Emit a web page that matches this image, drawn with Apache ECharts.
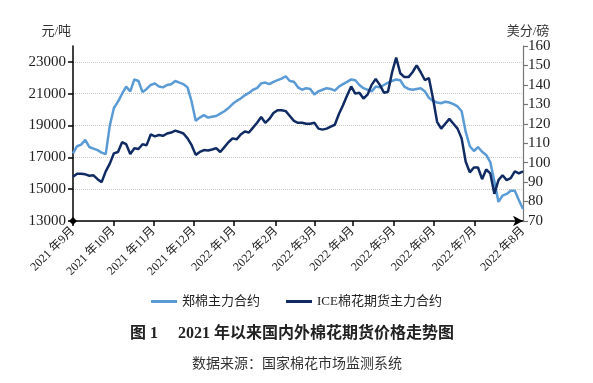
<!DOCTYPE html>
<html>
<head>
<meta charset="utf-8">
<script src="https://cdn.jsdelivr.net/npm/echarts@6/dist/echarts.min.js"></script>
<style>
html,body{margin:0;padding:0;background:#fff;}
#chart{width:593px;height:383px;}
</style>
</head>
<body>
<div id="chart"></div>
<script>
// Month labels and their positions on the sampling index axis
var monthLabels = ['2021 年9月','2021 年10月','2021 年11月','2021 年12月','2022 年1月','2022 年2月','2022 年3月','2022 年4月','2022 年5月','2022 年6月','2022 年7月','2022 年8月'];
var monthPos = [0, 9.84, 19.7, 29.6, 39.4, 49.6, 59.1, 68.3, 78.4, 88.2, 98.2, 110];
var leftTicks = [13000, 15000, 17000, 19000, 21000, 23000];
var seriesNames = ['郑棉主力合约', 'ICE棉花期货主力合约'];

// 郑棉主力合约 (元/吨), sampled along the time axis
var zcValues = [17250,17700,17800,18100,17650,17550,17450,17300,17200,19000,
 20100,20500,21000,21450,21150,21900,21800,21100,21300,21550,
 21650,21450,21400,21550,21600,21800,21700,21600,21400,20500,
 19300,19500,19650,19500,19550,19600,19750,19900,20100,20350,
 20550,20700,20900,21050,21250,21350,21650,21700,21600,21750,
 21850,21950,22100,21800,21750,21400,21250,21350,21300,20950,
 21150,21250,21350,21300,21200,21450,21600,21750,21900,21850,
 21550,21350,21250,21150,21450,21400,21550,21700,21800,21900,
 21850,21450,21300,21250,21300,21350,21150,20750,20550,20450,
 20400,20500,20450,20350,20200,19900,18600,17700,17400,17650,
 17350,17150,16700,15500,14200,14600,14700,14900,14900,14300,
 13750];

// ICE棉花期货主力合约 (美分/磅)
var iceValues = [92.8,94.3,94.3,94.0,93.3,93.5,91.5,90.0,95.5,99.5,
 104.8,105.5,110.5,109.5,104.5,107.4,107.0,109.5,109.0,114.5,
 113.5,114.2,113.8,115.0,115.5,116.5,115.8,115.0,112.5,109.0,
 104.0,105.5,106.5,106.3,106.8,107.5,105.5,108.0,110.5,112.5,
 112.0,114.5,116.0,115.5,118.0,120.5,123.5,120.5,122.5,125.5,
 127.0,127.0,126.5,124.0,121.5,120.5,120.5,120.0,120.0,120.5,
 117.5,117.0,117.5,118.5,119.5,125.0,129.5,134.5,139.2,135.5,
 136.0,133.0,135.0,140.0,143.0,140.0,136.0,136.5,146.5,154.0,
 146.0,144.0,144.0,146.5,150.0,146.5,142.5,143.5,133.0,121.0,
 117.5,120.0,122.5,120.0,117.5,112.5,100.5,95.0,97.5,97.5,
 91.5,96.5,94.5,84.0,91.0,93.5,91.0,92.0,95.5,94.5,
 95.5];

var serif = '"Liberation Serif", "Times New Roman", "Noto Sans CJK SC", serif';
var cjk = '"Liberation Serif", "Noto Sans CJK SC", sans-serif';

var chart = echarts.init(document.getElementById('chart'), null, {renderer: 'canvas'});
chart.setOption({
  animation: false,
  backgroundColor: '#fff',
  title: [{
    text: '图 1　 2021 年以来国内外棉花期货价格走势图',
    left: 287, top: 321, textAlign: 'center',
    textStyle: {fontFamily: cjk, fontSize: 16, fontWeight: 'bold', color: '#222'}
  }, {
    text: '数据来源：国家棉花市场监测系统',
    left: 292, top: 352, textAlign: 'center',
    textStyle: {fontFamily: cjk, fontSize: 14, fontWeight: 'normal', color: '#333'}
  }],
  legend: {
    data: seriesNames.map(function (n) { return {name: n, icon: 'rect'}; }),
    left: 'center', top: 290,
    itemWidth: 26, itemHeight: 3, itemGap: 26,
    textStyle: {fontFamily: cjk, fontSize: 13, color: '#222'}
  },
  grid: {left: 73, right: 70, top: 46, bottom: 162, containLabel: false},
  xAxis: {
    type: 'value', min: 0, max: 110,
    axisLine: {show: true, lineStyle: {color: '#000', width: 1.5}, symbol: ['none', 'arrow'], symbolSize: [8, 10]},
    axisTick: {show: true, inside: false, length: 5, lineStyle: {color: '#000', width: 1.5}, customValues: monthPos.slice(0, 11)},
    axisLabel: {
      show: true, rotate: 45, margin: 8, customValues: monthPos,
      fontFamily: cjk, fontSize: 12, color: '#222',
      formatter: function (v) {
        var best = 0, d = 1e9;
        for (var k = 0; k < monthPos.length; k++) { var dd = Math.abs(monthPos[k] - v); if (dd < d) { d = dd; best = k; } }
        return monthLabels[best];
      }
    },
    splitLine: {show: false}
  },
  yAxis: [{
    type: 'value', min: 13000, max: 24000, position: 'left',
    name: '元/吨', nameLocation: 'end', nameGap: 8,
    nameTextStyle: {fontFamily: cjk, fontSize: 13, color: '#333', align: 'right', padding: [0, 2, 0, 0]},
    axisLine: {show: true, lineStyle: {color: '#000', width: 1.5}, symbol: ['diamond', 'none'], symbolSize: [8, 8]},
    axisTick: {show: true, inside: false, length: 5, lineStyle: {color: '#000', width: 1.5}, customValues: leftTicks},
    axisLabel: {customValues: leftTicks, fontFamily: serif, fontSize: 15, color: '#222', margin: 7,
      formatter: function (v) { return String(Math.round(v)); }},
    splitLine: {show: true, lineStyle: {color: '#c8c8c8', type: 'dotted', width: 1}}
  }, {
    type: 'value', min: 70, max: 160, interval: 10, position: 'right',
    name: '美分/磅', nameLocation: 'end', nameGap: 8,
    nameTextStyle: {fontFamily: cjk, fontSize: 13, color: '#333', align: 'center', padding: [0, 0, 0, 10]},
    axisLine: {show: true, lineStyle: {color: '#777', width: 1.2}},
    axisTick: {show: true, inside: false, length: 5, lineStyle: {color: '#777', width: 1.2}},
    axisLabel: {fontFamily: serif, fontSize: 15, color: '#222', margin: 5},
    splitLine: {show: false}
  }],
  series: [{
    name: seriesNames[0], type: 'line', yAxisIndex: 0,
    symbol: 'none', smooth: false,
    lineStyle: {color: '#5B9BD5', width: 2.5},
    itemStyle: {color: '#5B9BD5'},
    data: zcValues.map(function (v, i) { return [i, v]; })
  }, {
    name: seriesNames[1], type: 'line', yAxisIndex: 1,
    symbol: 'none', smooth: false,
    lineStyle: {color: '#102B63', width: 2.5},
    itemStyle: {color: '#102B63'},
    data: iceValues.map(function (v, i) { return [i, v]; })
  }]
});
</script>
</body>
</html>
